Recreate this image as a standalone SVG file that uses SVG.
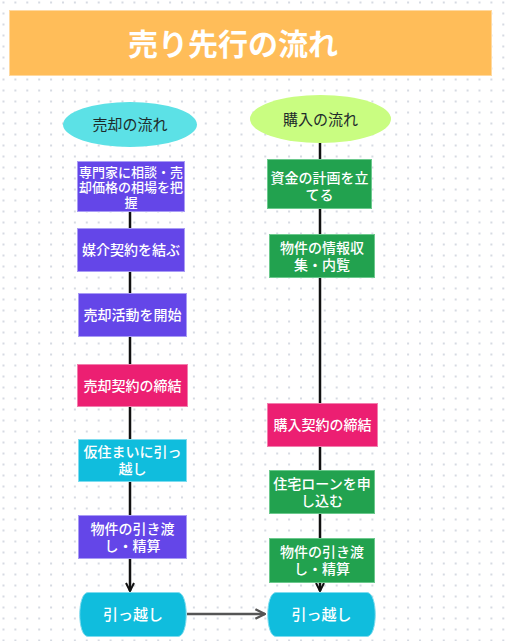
<svg xmlns="http://www.w3.org/2000/svg" width="505" height="641" viewBox="0 0 505 641">
<defs>
<pattern id="dots" x="0.5" y="-0.5" width="11.9" height="11" patternUnits="userSpaceOnUse">
<rect x="2" y="2" width="2" height="2" fill="#d6dae2"/>
</pattern>
<marker id="chevK" viewBox="0 0 10 10" refX="9" refY="5" markerWidth="10" markerHeight="10" markerUnits="userSpaceOnUse" orient="auto">
<path d="M1,1 L9,5 L1,9" fill="none" stroke="#111" stroke-width="2"/>
</marker>
<marker id="chevG" viewBox="0 0 10 10" refX="9" refY="5" markerWidth="12" markerHeight="12" markerUnits="userSpaceOnUse" orient="auto">
<path d="M1,1 L9,5 L1,9" fill="none" stroke="#555" stroke-width="2"/>
</marker>
</defs>
<style>
text{font-family:"Liberation Sans","Noto Sans CJK JP",sans-serif;text-anchor:middle;dominant-baseline:central}
.t{fill:#fff;font-size:14px;font-weight:500}
.e{fill:#1e2b2b;font-size:15px;font-weight:400}
.purple{fill:#6446E8;stroke:#a99cf5;stroke-width:1}
.green{fill:#22A24F;stroke:#6cc98d;stroke-width:1}
.pink{fill:#EC1F72;stroke:#f27fae;stroke-width:1}
.cyan{fill:#10BDDD;stroke:#7fdcef;stroke-width:1}
.ln{stroke:#111;stroke-width:2.5;fill:none}
</style>
<rect width="505" height="641" fill="#fff"/>
<rect width="505" height="641" fill="url(#dots)"/>

<g id="title">
<rect x="9.5" y="10.5" width="482" height="65" fill="#FFBD59" stroke="#ffd9a0" stroke-width="1"/>
<text x="233" y="44" style="fill:#fff;font-size:30px;font-weight:700">売り先行の流れ</text>
</g>

<g id="connectors">
<line class="ln" x1="130" y1="212" x2="130" y2="228"/>
<line class="ln" x1="130" y1="272" x2="130" y2="293"/>
<line class="ln" x1="130" y1="337" x2="130" y2="364"/>
<line class="ln" x1="130" y1="407" x2="130" y2="439"/>
<line class="ln" x1="130" y1="482" x2="130" y2="515"/>
<line class="ln" x1="130" y1="559" x2="130" y2="591" marker-end="url(#chevK)"/>
<line class="ln" x1="320" y1="143" x2="320" y2="159"/>
<line class="ln" x1="320" y1="209" x2="320" y2="234"/>
<line class="ln" x1="320" y1="278" x2="320" y2="403"/>
<line class="ln" x1="320" y1="447" x2="320" y2="470"/>
<line class="ln" x1="320" y1="514" x2="320" y2="538"/>
<line class="ln" x1="320" y1="583" x2="320" y2="591" marker-end="url(#chevK)"/>
<line x1="187" y1="614" x2="265" y2="614" stroke="#555" stroke-width="2.5" marker-end="url(#chevG)"/>
</g>

<g id="sell-head">
<ellipse cx="130" cy="124.5" rx="67" ry="22.5" fill="#5CE1E6"/>
<text class="e" x="130" y="124.5">売却の流れ</text>
</g>
<g id="buy-head">
<ellipse cx="320.5" cy="119" rx="70.5" ry="24" fill="#C9FD81"/>
<text class="e" x="320.5" y="119">購入の流れ</text>
</g>

<g id="s1">
<rect class="purple" x="77.5" y="161.5" width="107" height="50"/>
<text class="t" style="font-size:13px"><tspan x="131" y="171.5">専門家に相談・売</tspan><tspan x="131" y="186.5">却価格の相場を把</tspan><tspan x="131" y="201.5">握</tspan></text>
</g>
<g id="s2">
<rect class="purple" x="77.5" y="228.5" width="107" height="43"/>
<text class="t" x="131" y="250">媒介契約を結ぶ</text>
</g>
<g id="s3">
<rect class="purple" x="78.5" y="293.5" width="108" height="43"/>
<text class="t" x="132.5" y="315">売却活動を開始</text>
</g>
<g id="s4">
<rect class="pink" x="77.5" y="364.5" width="110" height="42"/>
<text class="t" x="132.5" y="385.5">売却契約の締結</text>
</g>
<g id="s5">
<rect class="cyan" x="78.5" y="439.5" width="108" height="42"/>
<text class="t"><tspan x="132.5" y="452">仮住まいに引っ</tspan><tspan x="132.5" y="469">越し</tspan></text>
</g>
<g id="s6">
<rect class="purple" x="78.5" y="515.5" width="108" height="43"/>
<text class="t"><tspan x="132.5" y="528.5">物件の引き渡</tspan><tspan x="132.5" y="545.5">し・精算</tspan></text>
</g>
<g id="s7">
<path class="cyan" d="M88,592.5 H178 C189,592.5 189,636.5 178,636.5 H88 C77,636.5 77,592.5 88,592.5 Z"/>
<text class="t" x="133" y="614.5" style="font-size:15px">引っ越し</text>
</g>

<g id="b1">
<rect class="green" x="267.5" y="159.5" width="104" height="49"/>
<text class="t"><tspan x="319.5" y="177.5">資金の計画を立</tspan><tspan x="319.5" y="194.5">てる</tspan></text>
</g>
<g id="b2">
<rect class="green" x="269.5" y="234.5" width="105" height="43"/>
<text class="t"><tspan x="322" y="247.5">物件の情報収</tspan><tspan x="322" y="264.5">集・内覧</tspan></text>
</g>
<g id="b3">
<rect class="pink" x="267.5" y="403.5" width="110" height="43"/>
<text class="t" x="322.5" y="425">購入契約の締結</text>
</g>
<g id="b4">
<rect class="green" x="269.5" y="470.5" width="105" height="43"/>
<text class="t"><tspan x="322" y="483.5">住宅ローンを申</tspan><tspan x="322" y="500.5">し込む</tspan></text>
</g>
<g id="b5">
<rect class="green" x="269.5" y="538.5" width="105" height="44"/>
<text class="t"><tspan x="322" y="552">物件の引き渡</tspan><tspan x="322" y="569">し・精算</tspan></text>
</g>
<g id="b6">
<path class="cyan" d="M276,592.5 H367 C378,592.5 378,636.5 367,636.5 H276 C265,636.5 265,592.5 276,592.5 Z"/>
<text class="t" x="321.5" y="614.5" style="font-size:15px">引っ越し</text>
</g>
</svg>
